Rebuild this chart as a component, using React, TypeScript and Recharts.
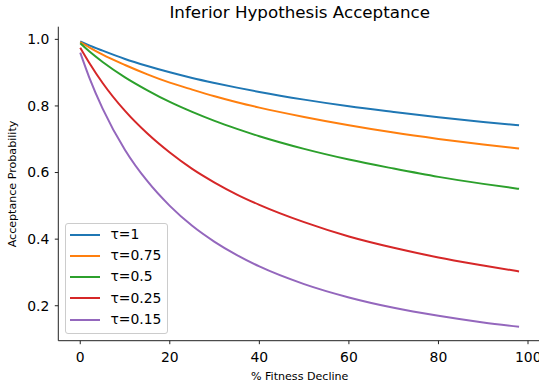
import { LineChart, Line, XAxis, YAxis, Legend } from "recharts";

// % fitness decline sampled along the curves
const xValues = [0, 2, 5, 10, 15, 20, 25, 30, 35, 40, 50, 60, 70, 80, 90, 98];

// acceptance probability, one list per temperature
const tau1 = [0.994, 0.982, 0.966, 0.941, 0.92, 0.901, 0.884, 0.869, 0.855, 0.842, 0.819, 0.799, 0.782, 0.766, 0.752, 0.742];
const tau075 = [0.992, 0.976, 0.954, 0.923, 0.895, 0.87, 0.849, 0.829, 0.811, 0.795, 0.767, 0.742, 0.72, 0.701, 0.684, 0.672];
const tau05 = [0.988, 0.964, 0.932, 0.886, 0.847, 0.812, 0.782, 0.755, 0.731, 0.709, 0.671, 0.639, 0.612, 0.587, 0.566, 0.551];
const tau025 = [0.975, 0.93, 0.869, 0.785, 0.717, 0.66, 0.611, 0.57, 0.534, 0.503, 0.451, 0.408, 0.374, 0.345, 0.321, 0.303];
const tau015 = [0.96, 0.886, 0.792, 0.668, 0.574, 0.5, 0.44, 0.392, 0.352, 0.318, 0.265, 0.225, 0.194, 0.17, 0.15, 0.137];

const seriesKeys = ["t1", "t075", "t05", "t025", "t015"];
const seriesNames = ["τ=1", "τ=0.75", "τ=0.5", "τ=0.25", "τ=0.15"];
const seriesColors = ["#1f77b4", "#ff7f0e", "#2ca02c", "#d62728", "#9467bd"];
const seriesValues = [tau1, tau075, tau05, tau025, tau015];

const xTicks = [0, 20, 40, 60, 80, 100];
const yTicks = [0.2, 0.4, 0.6, 0.8, 1.0];

const data = xValues.map((x, i) => {
  const row: Record<string, number> = { x };
  seriesKeys.forEach((k, s) => {
    row[k] = seriesValues[s][i];
  });
  return row;
});

const FONT = "DejaVu Sans, sans-serif";
const SPINE = "#222";

// x tick drawn by hand; the last label hangs over the right edge like the reference
function XTick(props: any) {
  const { x, y, payload } = props;
  const last = payload.value === xTicks[xTicks.length - 1];
  return (
    <g>
      <line x1={x} x2={x} y1={y - 11} y2={y - 7.5} stroke={SPINE} strokeWidth={1} />
      <text
        x={last ? x - 13 : x}
        y={y}
        dy="0.71em"
        textAnchor={last ? "start" : "middle"}
        fill="#000"
        fontSize={13.9}
        fontFamily={FONT}
      >
        {payload.value}
      </text>
    </g>
  );
}

function LegendBox() {
  return (
    <div
      style={{
        border: "1px solid #cccccc",
        borderRadius: 3,
        background: "rgba(255,255,255,0.8)",
        padding: "0px 6px 3px 4px",
        fontFamily: FONT,
      }}
    >
      {seriesNames.map((name, i) => (
        <div
          key={name}
          style={{ height: 21.2, display: "flex", alignItems: "center" }}
        >
          <span
            style={{
              display: "inline-block",
              width: 30,
              height: 2,
              background: seriesColors[i],
              marginRight: 10.5,
            }}
          />
          <span style={{ fontSize: 13.9, lineHeight: 1, color: "#000" }}>
            {name}
          </span>
        </div>
      ))}
    </div>
  );
}

export default function App() {
  return (
    <div
      style={{
        position: "absolute",
        left: 0,
        top: 0,
        width: 539,
        height: 387,
        overflow: "hidden",
        background: "#fff",
        fontFamily: FONT,
      }}
    >
      <LineChart
        width={560}
        height={387}
        data={data}
        margin={{ top: 26.7, right: 19, bottom: 26.3, left: 0 }}
        style={{ overflow: "visible" }}
      >
        <XAxis
          dataKey="x"
          type="number"
          domain={[-4.9, 102.9]}
          ticks={xTicks}
          interval={0}
          allowDataOverflow
          height={20}
          tickSize={3.5}
          tickMargin={7.5}
          axisLine={{ stroke: SPINE, strokeWidth: 1 }}
          tickLine={false}
          tick={<XTick />}
        />
        <XAxis
          xAxisId="top"
          orientation="top"
          type="number"
          domain={[-4.9, 102.9]}
          height={0}
          tick={false}
          tickLine={false}
          axisLine={{ stroke: SPINE, strokeWidth: 1 }}
        />
        <YAxis
          type="number"
          domain={[0.095, 1.038]}
          ticks={yTicks}
          interval={0}
          allowDataOverflow
          width={58.3}
          tickSize={3.5}
          tickMargin={5.5}
          tickFormatter={(v: number) => v.toFixed(1)}
          axisLine={{ stroke: SPINE, strokeWidth: 1 }}
          tickLine={{ stroke: SPINE, strokeWidth: 1 }}
          tick={{ fill: "#000", fontSize: 13.9, fontFamily: FONT }}
        />
        {seriesKeys.map((k, i) => (
          <Line
            key={k}
            dataKey={k}
            name={seriesNames[i]}
            type="monotone"
            stroke={seriesColors[i]}
            strokeWidth={2}
            dot={false}
            activeDot={false}
            isAnimationActive={false}
          />
        ))}
        <Legend
          layout="vertical"
          align="center"
          verticalAlign="middle"
          content={() => <LegendBox />}
          wrapperStyle={{ left: 65, top: 223.3, width: "auto" }}
        />
      </LineChart>
      <div
        style={{
          position: "absolute",
          left: 299.7,
          top: 3.9,
          transform: "translateX(-50%)",
          fontSize: 16.7,
          lineHeight: 1,
          whiteSpace: "nowrap",
          color: "#000",
        }}
      >
        Inferior Hypothesis Acceptance
      </div>
      <div
        style={{
          position: "absolute",
          left: 299.7,
          top: 370.6,
          transform: "translateX(-50%)",
          fontSize: 11.1,
          lineHeight: 1,
          whiteSpace: "nowrap",
          color: "#000",
        }}
      >
        % Fitness Decline
      </div>
      <div
        style={{
          position: "absolute",
          left: 13.15,
          top: 183.7,
          transform: "translate(-50%, -50%) rotate(-90deg)",
          fontSize: 11.1,
          lineHeight: 1,
          whiteSpace: "nowrap",
          color: "#000",
        }}
      >
        Acceptance Probability
      </div>
    </div>
  );
}
